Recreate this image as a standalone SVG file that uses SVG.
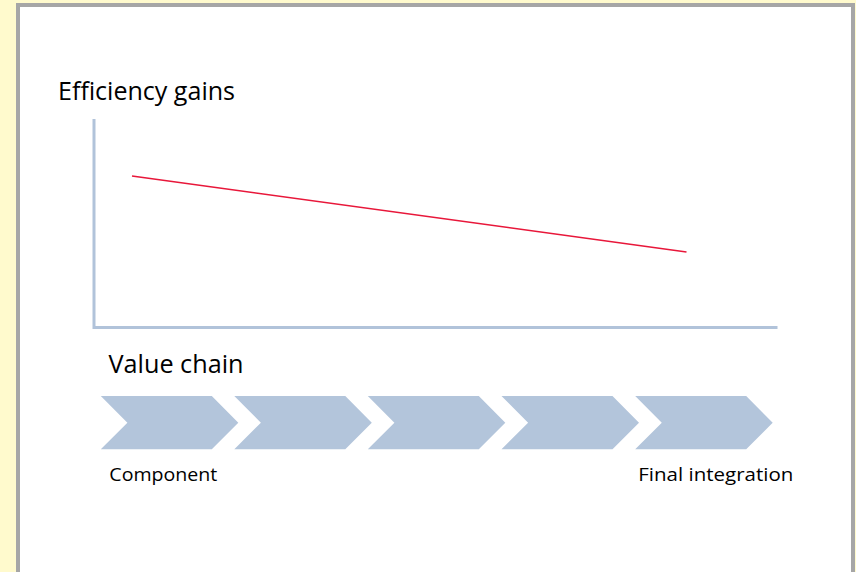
<svg xmlns="http://www.w3.org/2000/svg" xmlns:xlink="http://www.w3.org/1999/xlink" width="856" height="572" viewBox="0 0 856 572">
  <style>
    .label { font-family: "Open Sans", "Liberation Sans", sans-serif; fill: #000; }
    .axis { stroke: #B1C3DA; stroke-width: 3; fill: none; }
    .trend { stroke: #E8173A; stroke-width: 1.6; fill: none; }
    .step { fill: #B3C5DB; }
  </style>
  <defs>
    <!-- one chevron step of the value chain, drawn at origin -->
    <path id="chevron" d="M0,0 L111,0 L137.5,26.7 L111,53.3 L0,53.3 L26.6,26.7 Z"/>
  </defs>

  <!-- page background and framed panel -->
  <rect x="0" y="0" width="856" height="572" fill="#FFFACD"/>
  <rect x="18" y="5" width="835" height="600" fill="#FFFFFF" stroke="#A6A6A6" stroke-width="4"/>

  <g id="chart-title">
    <text class="label" x="58" y="100" font-size="25.5" textLength="177" lengthAdjust="spacingAndGlyphs">Efficiency gains</text>
  </g>

  <g id="axes">
    <polyline class="axis" points="94,119 94,327.5 777.5,327.5"/>
  </g>

  <g id="connectors">
    <line class="trend" x1="132" y1="176" x2="686.5" y2="252"/>
  </g>

  <g id="value-chain-title">
    <text class="label" x="108.5" y="372.7" font-size="24.7" textLength="135" lengthAdjust="spacingAndGlyphs">Value chain</text>
  </g>

  <g id="value-chain">
    <use id="step-1" class="step" xlink:href="#chevron" x="100.8" y="396"/>
    <use id="step-2" class="step" xlink:href="#chevron" x="234.3" y="396"/>
    <use id="step-3" class="step" xlink:href="#chevron" x="367.8" y="396"/>
    <use id="step-4" class="step" xlink:href="#chevron" x="501.5" y="396"/>
    <use id="step-5" class="step" xlink:href="#chevron" x="635.2" y="396"/>
  </g>

  <g id="label-component">
    <text class="label" x="109.3" y="480.7" font-size="17.5" textLength="108" lengthAdjust="spacingAndGlyphs">Component</text>
  </g>
  <g id="label-final-integration">
    <text class="label" x="638.3" y="480.7" font-size="17.5" textLength="155" lengthAdjust="spacingAndGlyphs">Final integration</text>
  </g>
</svg>
